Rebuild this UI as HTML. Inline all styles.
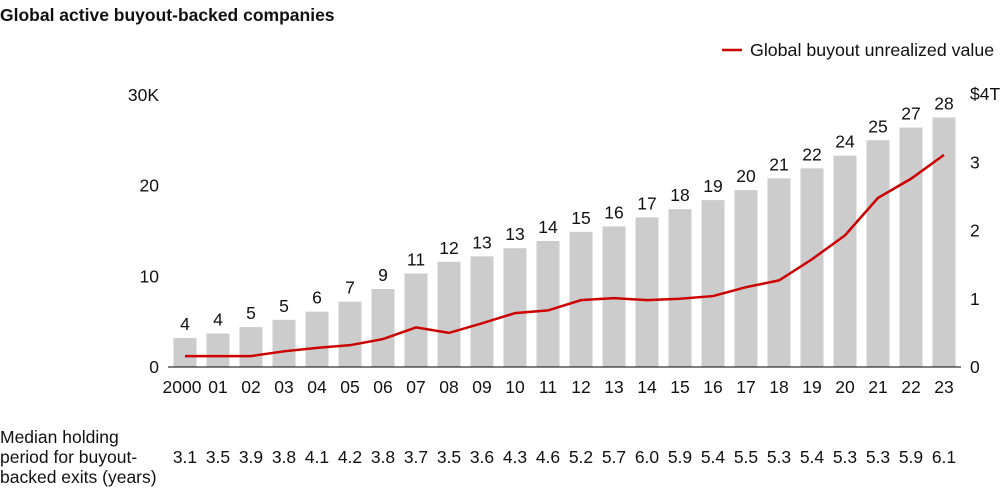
<!DOCTYPE html>
<html><head><meta charset="utf-8"><style>
body{margin:0;background:#fff;font-family:"Liberation Sans",sans-serif;}
svg text{font-family:"Liberation Sans",sans-serif;fill:#111;}
</style></head><body>
<svg width="1000" height="490">
<text x="0" y="21" font-size="17.5" font-weight="bold">Global active buyout-backed companies</text>
<g>
<line x1="722" y1="50" x2="742" y2="50" stroke="#cc0000" stroke-width="2.5"/>
<text x="750" y="56" font-size="17.8">Global buyout unrealized value</text>
</g>
<g id="bars"></g><g id="labels"></g><g id="axes"></g><g id="line"></g><g id="hold"></g>
<line x1="168" y1="367" x2="961" y2="367" stroke="#000" stroke-width="1"/>
<text x="0" y="443" font-size="17.5">Median holding</text>
<text x="0" y="463" font-size="17.5">period for buyout-</text>
<text x="0" y="483" font-size="17.5">backed exits (years)</text>
</svg>
<script>
const categories=["2000","01","02","03","04","05","06","07","08","09","10","11","12","13","14","15","16","17","18","19","20","21","22","23"];
const companies=[3.2,3.7,4.4,5.2,6.1,7.2,8.6,10.3,11.6,12.2,13.1,13.9,14.9,15.5,16.5,17.4,18.4,19.5,20.8,21.9,23.3,25.0,26.4,27.5];
const companyLabels=["4","4","5","5","6","7","9","11","12","13","13","14","15","16","17","18","19","20","21","22","24","25","27","28"];
const unrealized=[0.16,0.16,0.16,0.23,0.28,0.32,0.41,0.58,0.5,0.64,0.79,0.83,0.98,1.01,0.98,1.0,1.04,1.17,1.27,1.58,1.93,2.48,2.76,3.11];
const holding=["3.1","3.5","3.9","3.8","4.1","4.2","3.8","3.7","3.5","3.6","4.3","4.6","5.2","5.7","6.0","5.9","5.4","5.5","5.3","5.4","5.3","5.3","5.9","6.1"];
const leftTicks=[0,10,20,30];const leftTickLabels=["0","10","20","30K"];
const rightTicks=[0,1,2,3,4];const rightTickLabels=["0","1","2","3","$4T"];
const NS="http://www.w3.org/2000/svg";
const xC=i=>185+i*33;
const yL=v=>367-v*9.07;
const yR=v=>367-v*68.2;
function mk(parent,tag,attrs,txt){const e=document.createElementNS(NS,tag);for(const k in attrs)e.setAttribute(k,attrs[k]);if(txt!=null)e.textContent=txt;document.getElementById(parent).appendChild(e);return e;}
categories.forEach((c,i)=>{
 const b=mk("bars","rect",{x:xC(i)-11.5,y:yL(companies[i]),width:23,height:367-yL(companies[i]),fill:"#cccccc"});
 
 
 const l=mk("labels","text",{x:xC(i),y:yL(companies[i])-8,"font-size":17.5,"text-anchor":"middle"},companyLabels[i]);
 
 
 const t=mk("labels","text",{x:xC(i)+(i==0?-3:0),y:393,"font-size":17.5,"text-anchor":"middle"},c);
 
 
 const h=mk("hold","text",{x:xC(i),y:463,"font-size":17.5,"text-anchor":"middle"},holding[i]);
 
 
});
leftTicks.forEach((v,i)=>{
 const t=mk("axes","text",{x:159,y:yL(v)+6,"font-size":17.5,"text-anchor":"end"},leftTickLabels[i]);
 
 
});
rightTicks.forEach((v,i)=>{
 const t=mk("axes","text",{x:970,y:yR(v)+6,"font-size":17.5},rightTickLabels[i]);
 
 
});
const p=mk("line","polyline",{points:unrealized.map((v,i)=>xC(i)+","+yR(v)).join(" "),fill:"none",stroke:"#cc0000","stroke-width":2.5});


</script>
</body></html>
